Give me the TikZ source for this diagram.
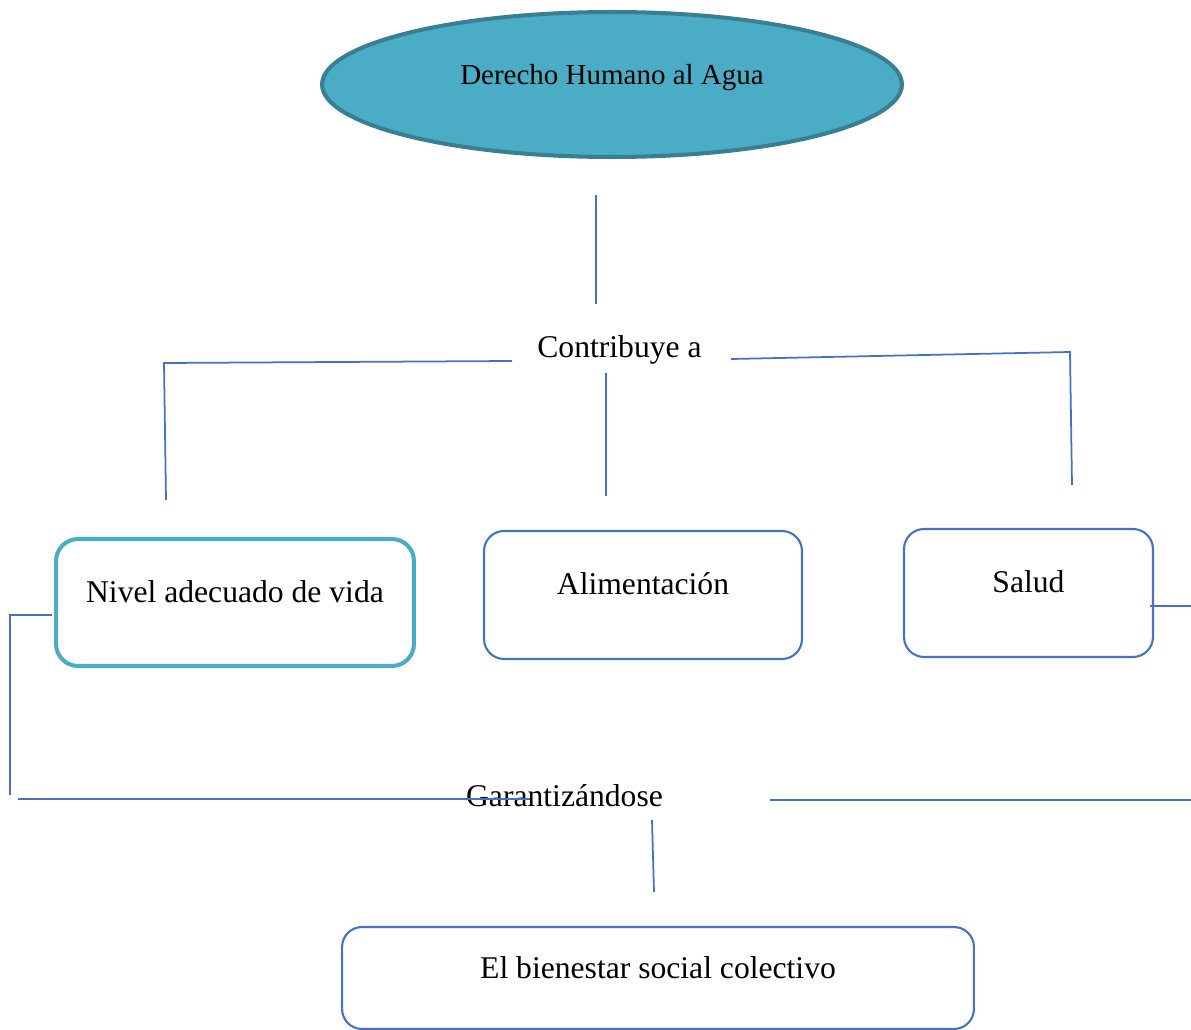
\documentclass[tikz,border=0pt]{standalone}
\usepackage{fontspec}
\setmainfont{Liberation Serif}
\usepackage{tikz}
\usetikzlibrary{shapes.geometric, positioning, calc}

\definecolor{aguafill}{HTML}{4BACC6}
\definecolor{aguaborde}{HTML}{387F94}
\definecolor{linea}{HTML}{4472C4}

\begin{document}
\begin{tikzpicture}[x=0.02cm, y=-0.02cm,
    caja/.style={draw=linea, line width=1.2pt, rounded corners=0.4cm, fill=white,
        inner sep=0pt, text height=2.6ex, text depth=2.6ex, font=\fontsize{18}{22}\selectfont},
    conector/.style={draw=linea, line width=1pt},
    rotulo/.style={anchor=base, inner sep=0pt, font=\fontsize{18}{22}\selectfont}]
\useasboundingbox (0,0) rectangle (1191,1030);

% Title ellipse
\node[ellipse, draw=aguaborde, fill=aguafill, line width=2.3pt, inner sep=0pt,
    minimum width=11.6cm, minimum height=2.9cm, text height=2.4ex, text depth=2.4ex,
    font=\fontsize{16.5}{20}\selectfont] (derecho) at (612,84.5) {Derecho Humano al Agua};

% First level
\node[rotulo] (contribuye) at (619.5,358) {Contribuye a};
\coordinate (h1) at (596,195);
\coordinate (h2) at (596,304);
\draw[conector] (h1) -- (h2);

\coordinate (c1) at (512,361);
\coordinate (c2) at (164,363);
\coordinate (c3) at (166,500);
\draw[conector] (c1) -- (c2) -- (c3);

\coordinate (c4) at (731,359);
\coordinate (c5) at (1070,352);
\coordinate (c6) at (1072,485);
\draw[conector] (c4) -- (c5) -- (c6);

\coordinate (c7) at (606,373);
\coordinate (c8) at (606,496);
\draw[conector] (c7) -- (c8);

% Boxes
\node[caja, draw=aguafill, line width=2.3pt, rounded corners=0.44cm,
    minimum width=7.16cm, minimum height=2.54cm] (nivel) at (235,602.5) {Nivel adecuado de vida};
\node[caja, minimum width=6.36cm, minimum height=2.56cm] (alimentacion) at (643,595) {Alimentación};
\node[caja, minimum width=4.98cm, minimum height=2.56cm] (salud) at (1028.5,593) {Salud};

% Second level
\coordinate (s1) at (1150,606);
\coordinate (s2) at (1191,606);
\draw[conector] (s1) -- (s2);

\coordinate (n1) at (52,615);
\coordinate (n2) at (10,615);
\coordinate (n3) at (10,795);
\draw[conector] (n1) -- (n2) -- (n3);

\node[rotulo] (garantizandose) at (564.5,806.5) {Garantizándose};
\coordinate (g1) at (18,799);
\coordinate (g2) at (530,799);
\draw[conector] (g1) -- (g2);
\coordinate (g3) at (770,800);
\coordinate (g4) at (1191,800);
\draw[conector] (g3) -- (g4);
\coordinate (g5) at (652,820);
\coordinate (g6) at (654,892);
\draw[conector] (g5) -- (g6);

% Result
\node[caja, minimum width=12.64cm, minimum height=2.04cm] (bienestar) at (658,978) {El bienestar social colectivo};
\end{tikzpicture}
\end{document}
